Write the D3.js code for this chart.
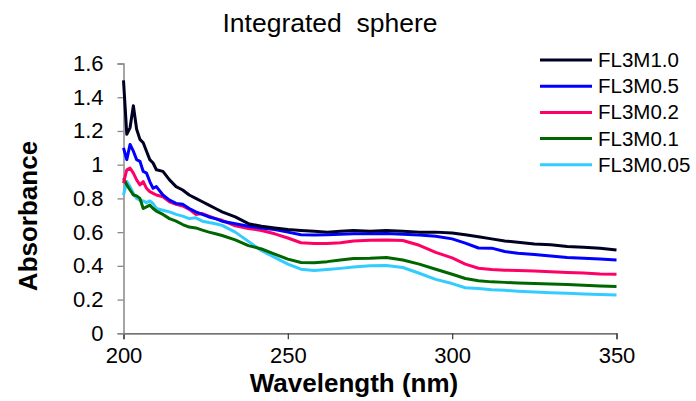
<!DOCTYPE html>
<html><head><meta charset="utf-8">
<script src="https://cdn.jsdelivr.net/npm/d3@7"></script>
<style>body{margin:0;background:#fff}svg{display:block}text{font-family:"Liberation Sans",Arial,sans-serif}</style>
</head><body>
<svg id="c" width="696" height="401"></svg>
<script>
const wavelengths = [200,201,202,203,204,205,206,207,208,209,210,212,214,216,218,220,222,224,226,228,230,234,238,242,246,250,254,258,262,266,270,275,280,285,290,295,300,304,308,312,316,320,325,330,335,340,345,350];
const fl3m10  = [1.50,1.18,1.22,1.35,1.21,1.15,1.13,1.08,1.03,1.01,0.97,0.96,0.91,0.87,0.85,0.82,0.80,0.78,0.76,0.74,0.72,0.69,0.65,0.635,0.625,0.615,0.61,0.605,0.60,0.605,0.61,0.605,0.61,0.605,0.60,0.60,0.595,0.585,0.573,0.56,0.548,0.54,0.53,0.525,0.515,0.51,0.505,0.494];
const fl3m05  = [1.10,1.03,1.12,1.08,1.03,1.02,0.96,0.95,0.90,0.86,0.87,0.82,0.79,0.77,0.765,0.74,0.72,0.705,0.69,0.68,0.665,0.65,0.635,0.625,0.615,0.60,0.585,0.583,0.585,0.588,0.59,0.59,0.592,0.588,0.583,0.575,0.56,0.535,0.506,0.505,0.485,0.475,0.468,0.458,0.45,0.445,0.44,0.435];
const fl3m02  = [0.89,0.97,0.98,0.95,0.91,0.88,0.90,0.86,0.84,0.83,0.82,0.81,0.78,0.765,0.755,0.735,0.705,0.71,0.695,0.68,0.67,0.637,0.622,0.61,0.59,0.565,0.537,0.532,0.533,0.537,0.548,0.552,0.553,0.55,0.522,0.48,0.447,0.41,0.386,0.378,0.374,0.372,0.37,0.365,0.36,0.357,0.352,0.35];
const fl3m01  = [0.92,0.88,0.85,0.82,0.815,0.80,0.74,0.75,0.76,0.74,0.725,0.705,0.68,0.665,0.645,0.63,0.625,0.612,0.60,0.59,0.58,0.554,0.52,0.50,0.47,0.44,0.42,0.418,0.425,0.435,0.443,0.445,0.45,0.435,0.41,0.38,0.35,0.325,0.312,0.305,0.302,0.298,0.295,0.292,0.289,0.285,0.28,0.277];
const fl3m005 = [0.82,0.90,0.87,0.83,0.80,0.79,0.785,0.775,0.785,0.77,0.74,0.73,0.72,0.705,0.695,0.68,0.685,0.665,0.657,0.65,0.64,0.60,0.545,0.49,0.45,0.41,0.38,0.372,0.378,0.385,0.393,0.40,0.402,0.39,0.356,0.32,0.295,0.27,0.265,0.258,0.255,0.25,0.245,0.24,0.237,0.233,0.23,0.227];
const seriesNames = ["FL3M1.0","FL3M0.5","FL3M0.2","FL3M0.1","FL3M0.05"];
const seriesValues = [fl3m10, fl3m05, fl3m02, fl3m01, fl3m005];
const seriesColors = ["#000022","#0000ff","#ff0066","#006600","#33ccff"];
const xTicks = [200,250,300,350];
const yTicks = [0,0.2,0.4,0.6,0.8,1,1.2,1.4,1.6];
const yTickLabels = ["0","0.2","0.4","0.6","0.8","1","1.2","1.4","1.6"];

const svg = d3.select("#c");
const x = d3.scaleLinear().domain([200,350]).range([123.5,616.5]);
const y = d3.scaleLinear().domain([0,1.6]).range([333.3,63.5]);

// axes
const xa = svg.append("g").attr("transform",`translate(0,${y(0)})`)
  .call(d3.axisBottom(x).tickValues(xTicks).tickSize(6).tickPadding(8).tickFormat(d3.format("d")));
xa.select(".domain").attr("stroke","#444").attr("stroke-width",1.3);
xa.selectAll(".tick line").attr("stroke","#444").attr("stroke-width",1.3);
xa.selectAll("text").attr("font-size",22).attr("fill","#000").style("font-family","Liberation Sans, Arial");

const ya = svg.append("g").attr("transform",`translate(${x(200)},0)`)
  .call(d3.axisLeft(y).tickValues(yTicks).tickSize(6).tickPadding(14).tickFormat((d,i)=>yTickLabels[i]));
ya.select(".domain").attr("stroke","#888").attr("stroke-width",1.5);
ya.selectAll(".tick line").attr("stroke","#888").attr("stroke-width",1.3);
ya.selectAll("text").attr("font-size",22).attr("fill","#000").style("font-family","Liberation Sans, Arial");

// lines (draw lowest first so black on top)
const line = d3.line().x((d,i)=>x(wavelengths[i])).y(d=>y(d));
for (let k = seriesValues.length-1; k>=0; k--) {
  svg.append("path").attr("d", line(seriesValues[k]))
    .attr("fill","none").attr("stroke",seriesColors[k]).attr("stroke-width",3)
    .attr("stroke-linejoin","round");
}

// title
svg.append("text").attr("x",330).attr("y",32).attr("text-anchor","middle")
  .attr("font-size",26.5).style("white-space","pre").text("Integrated  sphere");

// axis titles
svg.append("text").attr("x",354).attr("y",392).attr("text-anchor","middle")
  .attr("font-size",26).attr("font-weight","bold").text("Wavelength (nm)");
svg.append("text").attr("transform","translate(37,216) rotate(-90)").attr("text-anchor","middle")
  .attr("font-size",26).attr("font-weight","bold").text("Absorbance");

// legend
const lg = svg.append("g");
seriesNames.forEach((n,i)=>{
  const yy = 60 + i*26.2;
  lg.append("line").attr("x1",540).attr("x2",592).attr("y1",yy).attr("y2",yy)
    .attr("stroke",seriesColors[i]).attr("stroke-width",3);
  lg.append("text").attr("x",598).attr("y",yy+7).attr("font-size",20.5).text(n);
});
</script>
</body></html>
